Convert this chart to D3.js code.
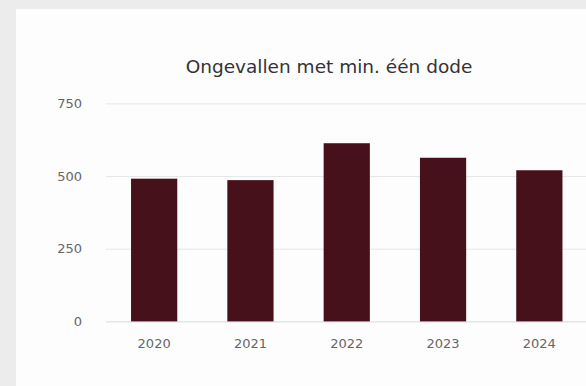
<!DOCTYPE html>
<html>
<head>
<meta charset="utf-8">
<script src="https://cdn.jsdelivr.net/npm/d3@7"></script>
<style>
  html, body { margin: 0; padding: 0; background: #ececec; }
  svg { display: block; }
</style>
</head>
<body>
<svg id="chart" width="586" height="386"></svg>
<script>
const title = "Ongevallen met min. één dode";
const categories = ["2020", "2021", "2022", "2023", "2024"];
const values = [491, 486, 613, 563, 520];
const yTicks = [0, 250, 500, 750];

const svg = d3.select("#chart");
const W = 586, H = 386;

svg.append("rect").attr("x", 0).attr("y", 0).attr("width", W).attr("height", H).attr("fill", "#ececec");
svg.append("rect").attr("x", 16).attr("y", 9).attr("width", W - 16).attr("height", H - 9).attr("fill", "#fdfdfe");

const x = d3.scaleBand().domain(categories).range([106, 587.5]).paddingInner(0.52).paddingOuter(0.26);
const y = d3.scaleLinear().domain([0, 750]).range([321.4, 103.4]);

// grid
const yAxis = d3.axisLeft(y).tickValues(yTicks).tickSize(0).tickPadding(24);
const gy = svg.append("g").attr("transform", "translate(106,0)").call(yAxis);
gy.select(".domain").remove();
gy.selectAll(".tick text").attr("fill", "#666").attr("font-family", "DejaVu Sans, sans-serif").attr("font-size", "13px");
gy.selectAll(".tick").append("line").attr("x1", 0).attr("x2", 587.5 - 106).attr("stroke", d => d === 0 ? "#d5d8e0" : "#e6e6e6").attr("stroke-width", 1);

// bars
svg.append("g").selectAll("rect").data(values).join("rect")
  .attr("x", (d, i) => x(categories[i]))
  .attr("y", d => y(d))
  .attr("width", x.bandwidth())
  .attr("height", d => y(0) - y(d))
  .attr("fill", "#46111a");

// x axis
const xAxis = d3.axisBottom(x).tickSize(0).tickPadding(17);
const gx = svg.append("g").attr("transform", `translate(0,${y(0)})`).call(xAxis);
gx.select(".domain").remove();
gx.selectAll(".tick text").attr("fill", "#666").attr("font-family", "DejaVu Sans, sans-serif").attr("font-size", "13px");

// title
svg.append("text").attr("x", 329).attr("y", 72.5).attr("text-anchor", "middle")
  .attr("fill", "#333").attr("font-family", "DejaVu Sans, sans-serif").attr("font-size", "18.5px")
  .text(title);
</script>
</body>
</html>
